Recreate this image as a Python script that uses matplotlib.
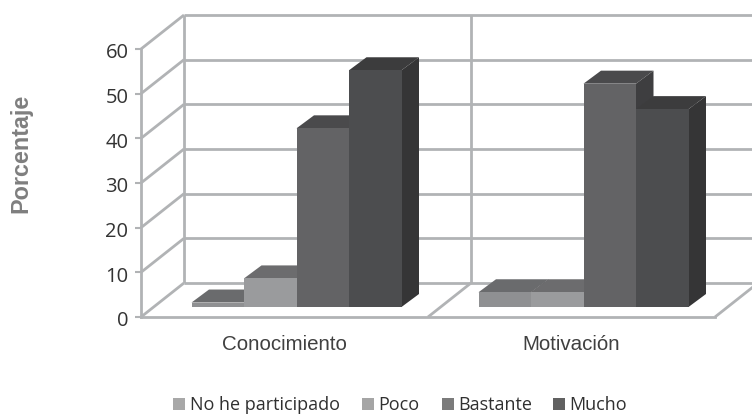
import matplotlib
matplotlib.use("Agg")
import matplotlib.pyplot as plt
from matplotlib.patches import Patch, Polygon
from matplotlib.transforms import ScaledTranslation

categories = ["Conocimiento", "Motivación"]
series = ["No he participado", "Poco", "Bastante", "Mucho"]
no_he_participado = [1.0, 3.3]
poco = [6.4, 3.3]
bastante = [40, 50]
mucho = [53, 44.3]
y_ticks = [0, 10, 20, 30, 40, 50, 60]

values = [no_he_participado, poco, bastante, mucho]
front = ["#8f9092", "#9a9b9d", "#636365", "#4c4d4f"]
top = ["#6a6b6d", "#6c6c6e", "#4a4a4c", "#3c3c3d"]
side = ["#555557", "#555557", "#3e3e40", "#353536"]
swatch = ["#a8a8a8", "#a5a5a5", "#7b7b7b", "#616161"]

W, H = 752, 416
PX_X = 287.0            # pixels per category
PX_Y = 268 / 60         # pixels per y unit
GRID = "#b1b3b5"

fig = plt.figure(figsize=(W / 100, H / 100), dpi=100, facecolor="white")
ax = fig.add_axes([141 / W, 1 - 317 / H, 574 / W, 268 / H])
ax.set_xlim(0, 2)
ax.set_ylim(0, 60)
ax.patch.set_visible(False)

# depth of the box and of the bars, in data units
wall_dx, wall_dy = 43 / PX_X, 34 / PX_Y
bar_dx, bar_dy = 17.5 / PX_X, 13 / PX_Y
base_dx, base_dy = 12 / PX_X, 10 / PX_Y
bar_w = 52.5 / PX_X


def line(xs, ys, z=1):
    ax.plot(xs, ys, color=GRID, lw=2.0, clip_on=False, zorder=z, solid_capstyle="butt")


# walls and grid
for t in y_ticks:
    line([0, wall_dx], [t, t + wall_dy])
    line([wall_dx, 2 + wall_dx], [t + wall_dy] * 2)
line([wall_dx, wall_dx], [wall_dy, 60 + wall_dy])
line([1 + wall_dx, 1 + wall_dx], [wall_dy, 60 + wall_dy])
line([1, 1 + wall_dx], [0, wall_dy])
line([2, 2 + wall_dx], [0, wall_dy])

# bars
z = 3
for c in range(len(categories)):
    for s, vals in enumerate(values):
        x0 = c + 0.5 + base_dx + (s - 2) * bar_w
        x1 = x0 + bar_w
        v = vals[c] + base_dy
        ax.add_patch(Polygon([(x0, v), (x1, v), (x1 + bar_dx, v + bar_dy), (x0 + bar_dx, v + bar_dy)],
                             closed=True, fc=top[s], ec="none", zorder=z, clip_on=False))
        ax.add_patch(Polygon([(x1, base_dy), (x1 + bar_dx, base_dy + bar_dy), (x1 + bar_dx, v + bar_dy), (x1, v)],
                             closed=True, fc=side[s], ec="none", zorder=z, clip_on=False))
        ax.bar(x0, vals[c], width=bar_w, bottom=base_dy, align="edge", color=front[s],
               zorder=z + 0.5, clip_on=False)
        z += 1

for name in ("top", "right"):
    ax.spines[name].set_visible(False)
for name in ("left", "bottom"):
    ax.spines[name].set_color(GRID)
    ax.spines[name].set_linewidth(2.0)

ax.set_yticks(y_ticks)
ax.set_xticks([0.5, 1.5])
ax.set_xticklabels(categories, family="Liberation Sans", fontsize=14.8, color="#404040")
ax.tick_params(axis="x", length=0, pad=13)
ax.tick_params(axis="y", length=4, width=1.5, color=GRID, pad=5, labelcolor="#333333", labelsize=14.5)
label_shift = ScaledTranslation(0, -2 / 100, fig.dpi_scale_trans)
for lab in ax.get_yticklabels():
    lab.set_family("Open Sans")
    lab.set_transform(lab.get_transform() + label_shift)

fig.text(21 / W, 1 - 153.5 / H, "Porcentaje", rotation=90, ha="center", va="center",
         family="Liberation Sans", weight="bold", fontsize=16.8, color="#7f7f7f")

legend_left = [173, 362, 442, 553]
for c, l, px in zip(swatch, series, legend_left):
    fig.legend(handles=[Patch(facecolor=c, edgecolor="none", label=l)], loc="center left",
               bbox_to_anchor=(px / W, 1 - 405 / H), frameon=False,
               prop={"family": "Open Sans", "size": 13}, labelcolor="#303030",
               handlelength=0.67, handleheight=0.67, handletextpad=0.25,
               borderpad=0, borderaxespad=0)

fig.savefig("out.png", dpi=100)
